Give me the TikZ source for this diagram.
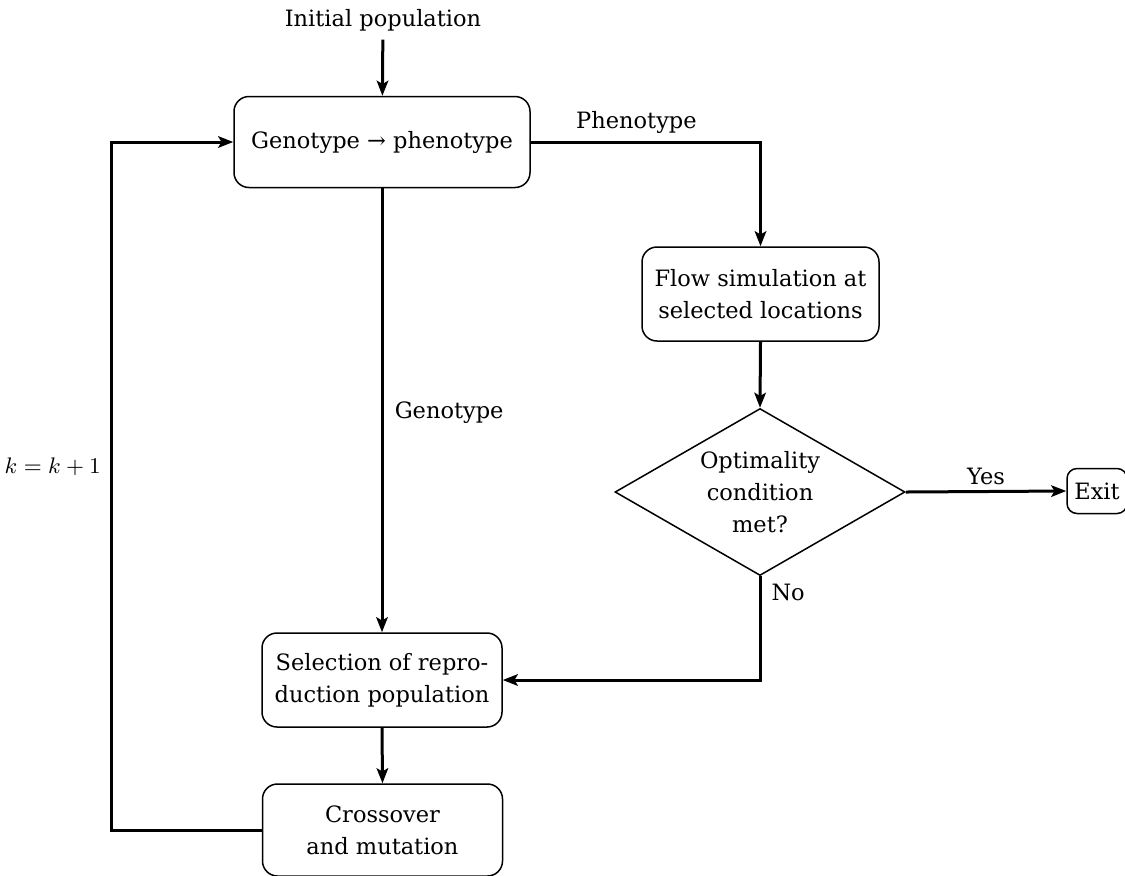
\documentclass[tikz,border=0pt]{standalone}
\usepackage{fontspec}
\setmainfont{DejaVu Serif}
\usetikzlibrary{arrows.meta,shapes.geometric,positioning}

\tikzset{
  box/.style={draw, line width=0.6pt, rounded corners=6pt, align=center, inner sep=2pt},
  decision/.style={draw, line width=0.6pt, diamond, inner sep=0pt,
    minimum width=116pt, minimum height=66.8pt},
  flow/.style={line width=1.2pt, -{Stealth[length=6pt,width=4.6pt,inset=1.3pt]}},
  lbl/.style={inner sep=2pt}
}

\begin{document}
\begin{tikzpicture}[x=0.4pt, y=-0.4pt, font=\fontsize{9}{12.8}\selectfont]
  \useasboundingbox (0,0) rectangle (1125,875);

  % nodes
  \node (init) at (383,20) {Initial population};
  \node[box, minimum width=118.4pt, minimum height=36.4pt] (g2p) at (382,142)
    {Genotype → phenotype};
  \node[box, minimum width=94.8pt, minimum height=37.6pt] (sim) at (760.5,294)
    {Flow simulation at\\selected locations};
  \node[decision] (opt) at (760,492) {};
  \node[align=center] (optText) at (opt.center) {Optimality\\condition\\met?};
  \node[box, minimum width=24pt, minimum height=18pt, rounded corners=4pt] (exit) at (1097,491) {Exit};
  \node[box, minimum width=96pt, minimum height=37.6pt] (sel) at (382,680)
    {Selection of repro-\\duction population};
  \node[box, minimum width=96pt, minimum height=36.8pt] (cross) at (382.5,830)
    {Crossover\\and mutation};
  \coordinate (loop) at (111,0);

  % connectors
  \draw[flow] (init) -- (g2p);
  \draw[flow] (g2p.east) -| node[lbl, pos=0.23, above=1pt] {Phenotype} (sim.north);
  \draw[flow] (g2p.south) -- node[lbl, pos=0.505, right=2.5pt] {Genotype} (sel.north);
  \draw[flow] (sim.south) -- (opt.north);
  \draw[flow] (opt.east) -- node[lbl, above] {Yes} (exit.west);
  \draw[flow] (opt.south) |- node[lbl, pos=0.08, right=2pt] {No} (sel.east);
  \draw[flow] (sel.south) -- (cross.north);
  \draw[flow] (cross.west) -| (loop |- g2p.west)
    node[lbl, pos=0.764, left=1.5pt] {$k=k+1$} -- (g2p.west);
\end{tikzpicture}
\end{document}
